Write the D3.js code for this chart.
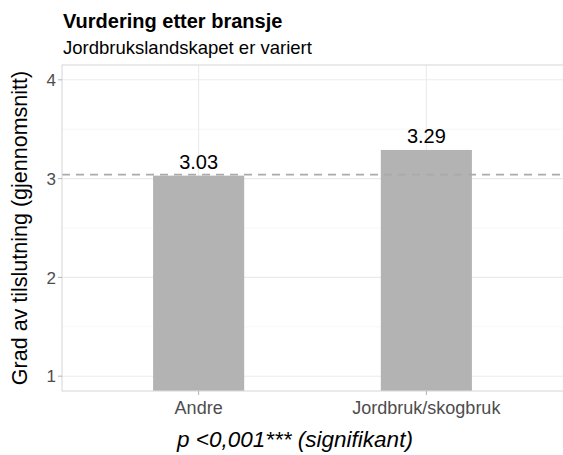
<!DOCTYPE html>
<html>
<head>
<meta charset="utf-8">
<script src="https://cdn.jsdelivr.net/npm/d3@7"></script>
<style>
  body { margin: 0; background: #fff; }
  text { font-family: Arial, "Liberation Sans", sans-serif; }
</style>
</head>
<body>
<svg id="chart" width="563" height="455"></svg>
<script>
// data
var categories = ["Andre", "Jordbruk/skogbruk"];
var values = [3.03, 3.29];
var valueLabels = ["3.03", "3.29"];
var meanValue = 3.04;
var yTicks = [1, 2, 3, 4];
var yMinor = [1.5, 2.5, 3.5];

var svg = d3.select("#chart"),
    width = +svg.attr("width"),
    height = +svg.attr("height");

var margin = {top: 65, right: 0, bottom: 64, left: 62};
var x0 = margin.left, x1 = width - margin.right;
var y0 = height - margin.bottom, y1 = margin.top;

// ggplot-like expansion
var y = d3.scaleLinear().domain([0.85, 4.15]).range([y0, y1]);
var xPos = d3.scaleLinear().domain([0.4, 2.6]).range([x0, x1]);
var x = d3.scaleOrdinal().domain(categories).range(categories.map((d, i) => xPos(i + 1)));
var barW = xPos(1.2) - xPos(0.8);

// grid
svg.append("g").selectAll("line.minor")
    .data(yMinor).enter().append("line")
    .attr("x1", x0).attr("x2", x1)
    .attr("y1", d => y(d)).attr("y2", d => y(d))
    .style("stroke", "#f2f2f2").style("stroke-width", 0.6);

svg.append("g").selectAll("line.major")
    .data(yTicks).enter().append("line")
    .attr("x1", x0).attr("x2", x1)
    .attr("y1", d => y(d)).attr("y2", d => y(d))
    .style("stroke", "#ebebeb").style("stroke-width", 1.1);

svg.append("g").selectAll("line.vmajor")
    .data(categories).enter().append("line")
    .attr("x1", d => x(d)).attr("x2", d => x(d))
    .attr("y1", y0).attr("y2", y1)
    .style("stroke", "#ebebeb").style("stroke-width", 1.1);

// bars
svg.append("g").selectAll("rect")
    .data(categories).enter().append("rect")
    .attr("x", d => x(d) - barW / 2)
    .attr("width", barW)
    .attr("y", (d, i) => y(values[i]))
    .attr("height", (d, i) => y0 - y(values[i]))
    .style("fill", "#b3b3b3");

// mean line
svg.append("line")
    .attr("x1", x0).attr("x2", x1)
    .attr("y1", y(meanValue)).attr("y2", y(meanValue))
    .style("stroke", "#aaaaaa")
    .style("stroke-width", 1.8)
    .style("stroke-dasharray", "8,6");

// value labels
svg.append("g").selectAll("text")
    .data(categories).enter().append("text")
    .attr("x", d => x(d))
    .attr("y", (d, i) => y(values[i]) - 7)
    .attr("text-anchor", "middle")
    .style("font-size", "20px")
    .style("fill", "#000")
    .text((d, i) => valueLabels[i]);

// panel border
svg.append("rect")
    .attr("x", x0).attr("y", y1)
    .attr("width", x1 - x0 + 2).attr("height", y0 - y1)
    .style("fill", "none")
    .style("stroke", "#d9d9d9")
    .style("stroke-width", 1.1);

// y axis ticks + labels
svg.append("g").selectAll("line")
    .data(yTicks).enter().append("line")
    .attr("x1", x0 - 4).attr("x2", x0)
    .attr("y1", d => y(d)).attr("y2", d => y(d))
    .style("stroke", "#b3b3b3");
svg.append("g").selectAll("text")
    .data(yTicks).enter().append("text")
    .attr("x", x0 - 6)
    .attr("y", d => y(d))
    .attr("dy", "0.36em")
    .attr("text-anchor", "end")
    .style("font-size", "17px")
    .style("fill", "#4d4d4d")
    .text(d => d);

// x axis ticks + labels
svg.append("g").selectAll("line")
    .data(categories).enter().append("line")
    .attr("x1", d => x(d)).attr("x2", d => x(d))
    .attr("y1", y0).attr("y2", y0 + 4)
    .style("stroke", "#b3b3b3");
svg.append("g").selectAll("text")
    .data(categories).enter().append("text")
    .attr("x", d => x(d))
    .attr("y", y0 + 23)
    .attr("text-anchor", "middle")
    .style("font-size", "18px")
    .style("fill", "#4d4d4d")
    .text(d => d);

// titles
svg.append("text")
    .attr("x", 63).attr("y", 28)
    .style("font-size", "20px").style("font-weight", "bold")
    .style("fill", "#000")
    .text("Vurdering etter bransje");
svg.append("text")
    .attr("x", 63).attr("y", 54)
    .style("font-size", "18.5px")
    .style("fill", "#000")
    .text("Jordbrukslandskapet er variert");

// y axis title
svg.append("text")
    .attr("transform", "translate(27," + ((y0 + y1) / 2) + ") rotate(-90)")
    .attr("text-anchor", "middle")
    .style("font-size", "21.5px")
    .style("fill", "#000")
    .text("Grad av tilslutning (gjennomsnitt)");

// caption
svg.append("text")
    .attr("x", 295)
    .attr("y", 447)
    .attr("text-anchor", "middle")
    .style("font-size", "22.5px")
    .style("font-style", "italic")
    .style("fill", "#000")
    .text("p <0,001*** (signifikant)");
</script>
</body>
</html>
